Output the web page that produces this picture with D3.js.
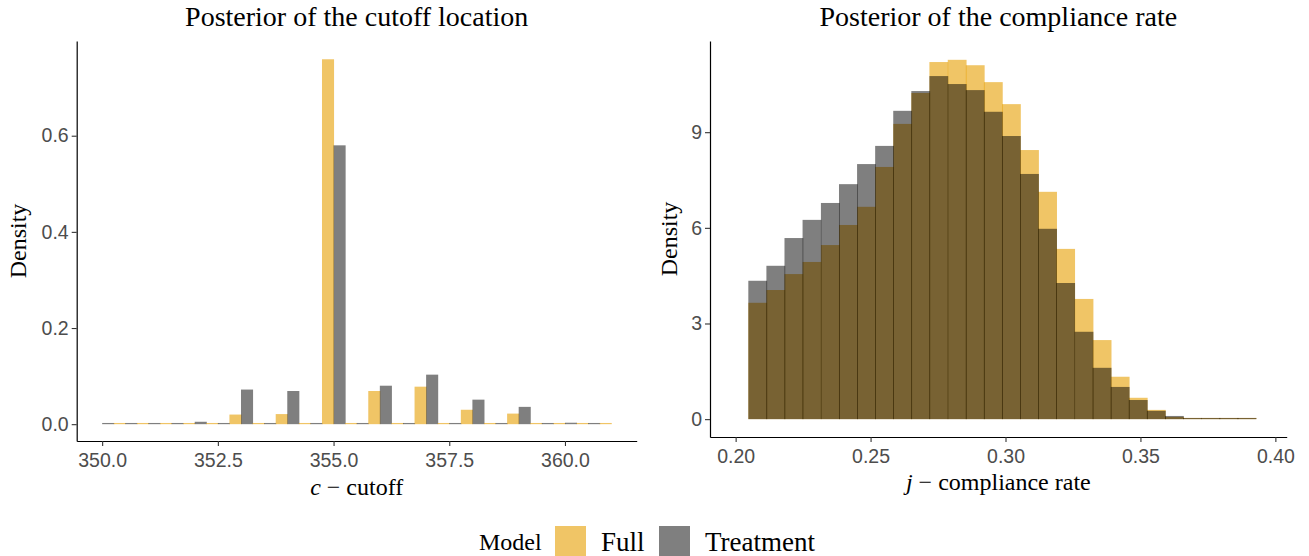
<!DOCTYPE html>
<html>
<head>
<meta charset="utf-8">
<script src="https://cdn.jsdelivr.net/npm/d3@7"></script>
<style>
  body { margin: 0; background: white; }
  svg { display: block; }
</style>
</head>
<body>
<svg width="1309" height="556"></svg>
<script>
// ---------- data ----------

// left panel: bins of width 0.5, Treatment on the left half, Full on the right half
let cutBins = [350.0, 350.5, 351.0, 351.5, 352.0, 352.5, 353.0, 353.5, 354.0, 354.5, 355.0,
               355.5, 356.0, 356.5, 357.0, 357.5, 358.0, 358.5, 359.0, 359.5, 360.0, 360.5];
let cutBinWidth = 0.5;
let cutFull  = [0, 0, 0, 0, 0, 0.020, 0, 0.021, 0, 0.759, 0,
                0.069, 0, 0.078, 0, 0.030, 0, 0.022, 0, 0, 0, 0];
let cutTreat = [0, 0, 0, 0, 0.005, 0, 0.072, 0, 0.069, 0, 0.580,
                0, 0.080, 0, 0.103, 0, 0.051, 0, 0.036, 0, 0.003, 0];
let cutTicks = [350, 352.5, 355, 357.5, 360];
let cutYTicks = [0, 0.2, 0.4, 0.6];

// right panel: overlaid histograms
let compBins = [0.2047, 0.2114, 0.2181, 0.2248, 0.2316, 0.2383, 0.2450, 0.2517, 0.2584, 0.2651,
                0.2718, 0.2786, 0.2853, 0.2920, 0.2987, 0.3054, 0.3121, 0.3188, 0.3256, 0.3323,
                0.3390, 0.3457, 0.3524, 0.3591, 0.3658, 0.3726, 0.3793, 0.3860];
let compBinWidth = 0.006714;
let compFull  = [3.65, 4.05, 4.55, 4.93, 5.46, 6.09, 6.66, 7.91, 9.26, 10.23,
                 11.20, 11.27, 11.10, 10.57, 9.88, 8.44, 7.13, 5.34, 3.77, 2.48,
                 1.33, 0.67, 0.29, 0.07, 0.02, 0.01, 0.01, 0.01];
let compTreat = [4.34, 4.81, 5.68, 6.25, 6.78, 7.37, 8.00, 8.57, 9.67, 10.29,
                 10.76, 10.51, 10.32, 9.64, 8.88, 7.69, 5.97, 4.27, 2.74, 1.61,
                 1.01, 0.60, 0.26, 0.10, 0.02, 0.01, 0.01, 0.01];
let compTicks = [0.20, 0.25, 0.30, 0.35, 0.40];
let compYTicks = [0, 3, 6, 9];

let models = ["Full", "Treatment"];

// ---------- look ----------
const fillOf = { Full: "#E69F00", Treatment: "#000000" };
const alphaOf = { Full: 0.6, Treatment: 0.5 };
const serif = "Liberation Serif, Times New Roman, serif";
const sans = "Liberation Sans, Arial, sans-serif";

const svg = d3.select("svg");

/** Draws the axes, titles and labels for one panel. */
function drawFrame(g, x, y, xTicks, yTicks, xFmt, title, xName, xItalic, opts) {
	let xa = d3.axisBottom(x).tickValues(xTicks).tickFormat(d3.format(xFmt))
		.tickSize(5).tickSizeOuter(0).tickPadding(3);
	let ya = d3.axisLeft(y).tickValues(yTicks).tickFormat(opts.yFmt)
		.tickSize(5).tickSizeOuter(0).tickPadding(3);

	let gx = g.append("g").attr("transform", "translate(0," + y.range()[0] + ")").call(xa);
	let gy = g.append("g").attr("transform", "translate(" + x.range()[0] + ",0)").call(ya);

	[gx, gy].forEach(function(a) {
		a.select(".domain").attr("stroke", "black").attr("stroke-width", 1.2);
		a.selectAll(".tick line").attr("stroke", "#333333").attr("stroke-width", 1.1);
		a.selectAll(".tick text").attr("fill", "#4D4D4D")
			.style("font-family", sans).style("font-size", "19.5px");
	});
	gx.selectAll(".tick text").attr("dy", "0.9em");

	let cx = (x.range()[0] + x.range()[1]) / 2;
	let cy = (y.range()[0] + y.range()[1]) / 2;

	g.append("text").attr("x", cx).attr("y", 26).attr("text-anchor", "middle")
		.style("font-family", serif).style("font-size", "28px").text(title);

	let xt = g.append("text").attr("x", cx).attr("y", opts.xTitleY).attr("text-anchor", "middle")
		.style("font-family", serif).style("font-size", "24px");
	xt.append("tspan").style("font-style", "italic").text(xItalic);
	xt.append("tspan").text(" \u2212 " + xName);

	g.append("text").attr("transform", "translate(" + opts.yTitleX + "," + cy + ") rotate(-90)")
		.attr("text-anchor", "middle")
		.style("font-family", serif).style("font-size", "24px").text("Density");
}

/** Height of a bar, with a hairline for empty bins like ggplot shows. */
function barTop(y, v) {
	let h = Math.max(y(0) - y(v), 1.2);
	return y(0) - h;
}

//============= left panel: cutoff location =============
let xCut = d3.scaleLinear().domain([349.45, 361.55]).range([76.7, 636.7]);
let yCut = d3.scaleLinear().domain([-0.035, 0.797]).range([441, 41]);
let gLeft = svg.append("g");

let cutRows = [];
cutBins.forEach(function(b, i) {
	cutRows.push({ model: "Treatment", x0: b, x1: b + cutBinWidth / 2, v: cutTreat[i] });
	cutRows.push({ model: "Full", x0: b + cutBinWidth / 2, x1: b + cutBinWidth, v: cutFull[i] });
});

gLeft.append("g").selectAll("rect").data(cutRows).enter().append("rect")
	.attr("x", function(d) { return xCut(d.x0); })
	.attr("width", function(d) { return xCut(d.x1) - xCut(d.x0) + 0.5; })
	.attr("y", function(d) { return barTop(yCut, d.v); })
	.attr("height", function(d) { return yCut(0) - barTop(yCut, d.v); })
	.attr("fill", function(d) { return fillOf[d.model]; })
	.attr("fill-opacity", function(d) { return alphaOf[d.model]; });

drawFrame(gLeft, xCut, yCut, cutTicks, cutYTicks, ".1f",
	"Posterior of the cutoff location", "cutoff", "c",
	{ yFmt: d3.format(".1f"), xTitleY: 495, yTitleX: 26 });

//============= right panel: compliance rate =============
let xComp = d3.scaleLinear().domain([0.1905, 0.4042]).range([710, 1286.7]);
let yComp = d3.scaleLinear().domain([-0.56, 11.86]).range([437, 41]);
let gRight = svg.append("g");

// Full underneath, Treatment laid over it
[["Full", compFull], ["Treatment", compTreat]].forEach(function(pair) {
	let model = pair[0];
	let vals = pair[1];
	gRight.append("g").selectAll("rect").data(vals).enter().append("rect")
		.attr("x", function(d, i) { return xComp(compBins[i]); })
		.attr("width", function(d, i) { return xComp(compBins[i] + compBinWidth) - xComp(compBins[i]) + 0.7; })
		.attr("y", function(d) { return barTop(yComp, d); })
		.attr("height", function(d) { return yComp(0) - barTop(yComp, d); })
		.attr("fill", fillOf[model])
		.attr("fill-opacity", alphaOf[model]);
});

drawFrame(gRight, xComp, yComp, compTicks, compYTicks, ".2f",
	"Posterior of the compliance rate", "compliance rate", "j",
	{ yFmt: d3.format("d"), xTitleY: 490, yTitleX: 677 });

//============= legend =============
let leg = svg.append("g");
leg.append("text").attr("x", 479).attr("y", 550)
	.style("font-family", serif).style("font-size", "24px").text("Model");

let keyX = { Full: 555, Treatment: 659 };
leg.selectAll("rect").data(models).enter().append("rect")
	.attr("x", function(d) { return keyX[d]; }).attr("y", 526)
	.attr("width", 31).attr("height", 30)
	.attr("fill", function(d) { return fillOf[d]; })
	.attr("fill-opacity", function(d) { return alphaOf[d]; });

leg.selectAll("text.lab").data(models).enter().append("text").attr("class", "lab")
	.attr("x", function(d) { return keyX[d] + 46; }).attr("y", 551)
	.style("font-family", serif).style("font-size", "27px")
	.text(function(d) { return d; });
</script>
</body>
</html>
